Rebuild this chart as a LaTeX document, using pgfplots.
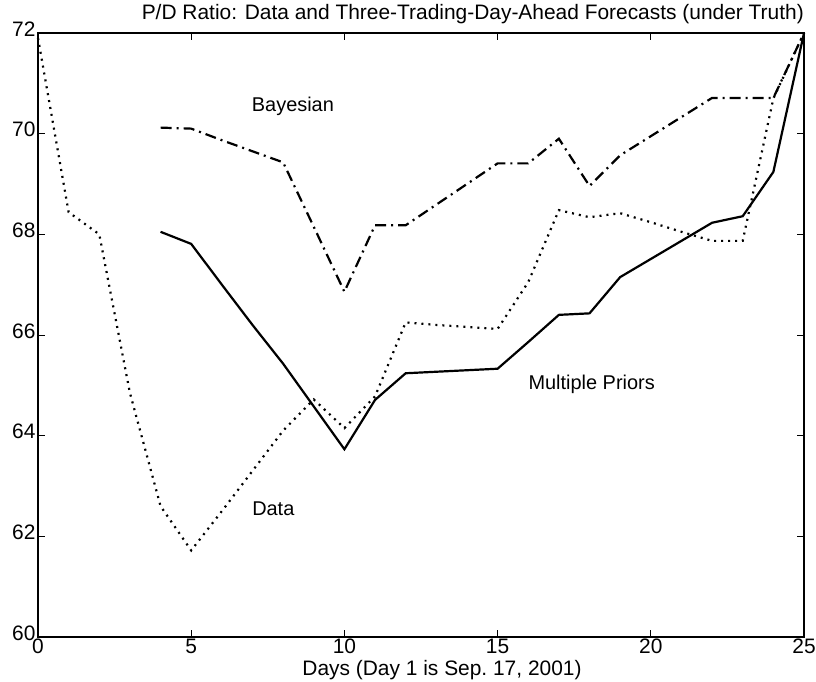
\documentclass[border=0pt]{standalone}
\usepackage{fontspec}
\setmainfont{Liberation Sans}
\usepackage{pgfplots}
\usepackage{pgfplotstable}
\pgfplotsset{compat=1.18}

% P/D ratio: observed data
\pgfplotstableread{
day pd
0  71.9
1  68.44
2  68.0
3  64.85
4  62.6
5  61.72
6  62.5
7  63.3
8  64.1
9  64.72
10 64.15
11 64.78
12 66.25
13 66.2
14 66.16
15 66.12
16 67.05
17 68.48
18 68.34
19 68.42
20 68.24
21 68.05
22 67.87
23 67.87
24 70.7
25 72.0
}\datatab

% Bayesian three-day-ahead forecast
\pgfplotstableread{
day pd
4  70.12
5  70.1
6  69.87
7  69.65
8  69.43
9  68.15
10 66.86
11 68.18
12 68.18
13 68.59
14 69.0
15 69.41
16 69.41
17 69.9
18 68.96
19 69.57
20 69.95
21 70.33
22 70.71
23 70.71
24 70.71
25 72.0
}\bayestab

% Multiple-priors three-day-ahead forecast
\pgfplotstableread{
day pd
4  68.05
5  67.81
6  67.0
7  66.2
8  65.43
9  64.58
10 63.73
11 64.71
12 65.24
13 65.27
14 65.3
15 65.33
16 65.86
17 66.4
18 66.43
19 67.15
20 67.51
21 67.87
22 68.23
23 68.36
24 69.24
25 72.0
}\mptab

\newcommand{\lbl}{\fontsize{21}{25}\selectfont}
\newcommand{\inlbl}{\fontsize{20}{24}\selectfont}

\begin{document}
\begin{tikzpicture}
\begin{axis}[
  name=ax,
  scale only axis,
  width=766bp, height=604bp,
  xmin=0, xmax=25, ymin=60, ymax=72,
  xtick={0,5,...,25},
  ytick={60,62,...,72},
  tick pos=both,
  xticklabel pos=lower,
  yticklabel pos=left,
  tick align=inside,
  major tick length=7bp,
  axis line style={line width=1.2bp},
  tick style={line width=0.9bp, black},
  ticklabel style={font=\lbl},
  /pgf/number format/assume math mode=true,
  xticklabel style={inner sep=1bp, yshift=-1bp},
  yticklabel style={xshift=1bp, yshift=4bp},
  clip=false,
]
\addplot[black, line width=2.2bp, dash pattern=on 2bp off 5bp] table[x=day, y=pd] {\datatab};
\addplot[black, line width=2.2bp, dash pattern=on 11bp off 5bp on 2bp off 5bp] table[x=day, y=pd] {\bayestab};
\addplot[black, line width=2.2bp] table[x=day, y=pd] {\mptab};

\node[font=\inlbl] at (axis cs:8.32,70.54) {Bayesian};
\node[font=\inlbl] at (axis cs:7.68,62.55) {Data};
\node[font=\inlbl] at (axis cs:18.07,65.01) {Multiple Priors};
\node[font=\lbl, anchor=south east, inner sep=0pt] at ([yshift=9bp]rel axis cs:1,1)
  {P/D Ratio: Data and Three-Trading-Day-Ahead Forecasts (under Truth)};
\node[font=\lbl, anchor=north, inner sep=0pt] at ([xshift=21bp, yshift=-23bp]rel axis cs:0.5,0)
  {Days (Day 1 is Sep.\ 17, 2001)};
\end{axis}
\pgfresetboundingbox
\path ([shift={(-38bp,-45bp)}]ax.south west) rectangle ([shift={(12bp,33bp)}]ax.north east);
\end{tikzpicture}
\end{document}
